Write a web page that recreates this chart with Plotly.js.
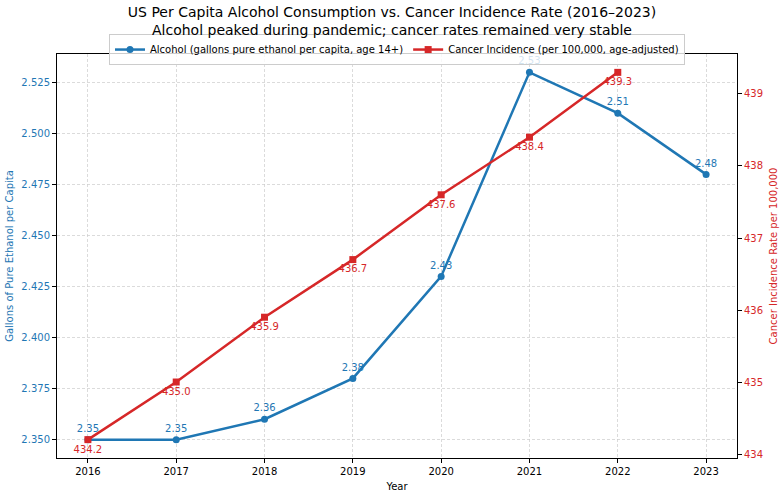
<!DOCTYPE html>
<html>
<head>
<meta charset="utf-8">
<script src="https://cdn.plot.ly/plotly-3.0.1.min.js"></script>
<style>html,body{margin:0;padding:0;background:#fff}#chart{width:784px;height:496px}</style>
</head>
<body>
<div id="chart"></div>
<script>
const years = [2016, 2017, 2018, 2019, 2020, 2021, 2022, 2023];
const alcohol = [2.35, 2.35, 2.36, 2.38, 2.43, 2.53, 2.51, 2.48];
const cancerYears = [2016, 2017, 2018, 2019, 2020, 2021, 2022];
const cancer = [434.2, 435.0, 435.9, 436.7, 437.6, 438.4, 439.3];
const leftTicks = [2.350, 2.375, 2.400, 2.425, 2.450, 2.475, 2.500, 2.525];
const rightTicks = [434, 435, 436, 437, 438, 439];

const blue = '#1f77b4', red = '#d62728';
const font = 'DejaVu Sans, sans-serif';

const traces = [
  {
    x: years, y: alcohol, type: 'scatter', mode: 'lines+markers+text',
    name: 'Alcohol (gallons pure ethanol per capita, age 14+)',
    line: {color: blue, width: 2.5},
    marker: {color: blue, size: 7, symbol: 'circle'},
    text: alcohol.map(v => v.toFixed(2)), textposition: 'top center',
    textfont: {color: blue, size: 10, family: font},
    yaxis: 'y', cliponaxis: false
  },
  {
    x: cancerYears, y: cancer, type: 'scatter', mode: 'lines+markers+text',
    name: 'Cancer Incidence (per 100,000, age-adjusted)',
    line: {color: red, width: 2.5},
    marker: {color: red, size: 7, symbol: 'square'},
    text: cancer.map(v => v.toFixed(1)), textposition: 'bottom center',
    textfont: {color: red, size: 10, family: font},
    yaxis: 'y2', cliponaxis: false
  }
];

const layout = {
  width: 784, height: 496,
  margin: {l: 57, r: 47, t: 54, b: 38},
  paper_bgcolor: '#fff', plot_bgcolor: '#fff',
  font: {family: font, size: 10, color: '#000'},
  title: {
    text: 'US Per Capita Alcohol Consumption vs. Cancer Incidence Rate (2016–2023)<br>Alcohol peaked during pandemic; cancer rates remained very stable',
    font: {size: 14, family: font, color: '#000'},
    x: 0.5, xanchor: 'center', yref: 'container', y: 0.966, yanchor: 'top'
  },
  showlegend: true,
  legend: {
    orientation: 'h', x: 0.5, xanchor: 'center', y: 1.011, yanchor: 'middle',
    bgcolor: 'rgba(255,255,255,0.8)', bordercolor: '#cccccc', borderwidth: 1,
    font: {size: 10, family: font}, itemwidth: 30
  },
  xaxis: {
    range: [2015.65, 2023.35], tickvals: years, ticktext: years.map(String),
    showgrid: true, gridcolor: '#cccccc', griddash: '3px,2px', gridwidth: 0.7,
    showline: true, linecolor: '#000', linewidth: 1, mirror: true,
    ticks: 'outside', ticklen: 4, tickcolor: '#000', zeroline: false,
    title: {text: 'Year', font: {size: 10, family: font}, standoff: 6}
  },
  yaxis: {
    range: [2.341, 2.539], tickvals: leftTicks, ticktext: leftTicks.map(v => v.toFixed(3)),
    showgrid: true, gridcolor: '#cccccc', griddash: '3px,2px', gridwidth: 0.7,
    showline: true, linecolor: '#000', linewidth: 1,
    ticks: 'outside', ticklen: 4, tickcolor: '#000', zeroline: false,
    tickfont: {color: blue, size: 10},
    title: {text: 'Gallons of Pure Ethanol per Capita', font: {color: blue, size: 10, family: font}, standoff: 5}
  },
  yaxis2: {
    range: [433.945, 439.555], tickvals: rightTicks, ticktext: rightTicks.map(String),
    overlaying: 'y', side: 'right', showgrid: false,
    showline: true, linecolor: '#000', linewidth: 1,
    ticks: 'outside', ticklen: 4, tickcolor: '#000', zeroline: false,
    tickfont: {color: red, size: 10},
    title: {text: 'Cancer Incidence Rate per 100,000', font: {color: red, size: 10, family: font}, standoff: 7}
  }
};

Plotly.newPlot('chart', traces, layout, {displayModeBar: false, staticPlot: true});
</script>
</body>
</html>
